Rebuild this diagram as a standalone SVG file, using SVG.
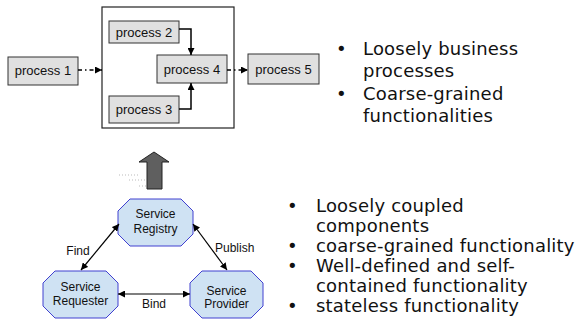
<svg xmlns="http://www.w3.org/2000/svg" width="582" height="327" viewBox="0 0 582 327">
<defs>
<style>
.proc{fill:#e0e0e0;stroke:#333;stroke-width:1}
.pt{font-family:"Liberation Sans",Arial,sans-serif;font-size:13px;fill:#111;text-anchor:middle}
.oct{fill:#cfe2f3;stroke:#4040d0;stroke-width:1}
.st{font-family:"Liberation Sans",Arial,sans-serif;font-size:12px;fill:#111;text-anchor:middle}
.lab{font-family:"Liberation Sans",Arial,sans-serif;font-size:12px;fill:#111}
.bul{font-family:"DejaVu Sans",Verdana,sans-serif;font-size:18px;letter-spacing:0.2px;fill:#111}
.con{fill:none;stroke:#000;stroke-width:1.5}
.thin{fill:none;stroke:#000;stroke-width:1.2}
</style>
<marker id="ah" viewBox="0 0 10 10" refX="10" refY="5" markerWidth="7" markerHeight="7" markerUnits="userSpaceOnUse" orient="auto"><path d="M0,0 L10,5 L0,10 z" fill="#000"/></marker>
<marker id="as" viewBox="0 0 10 10" refX="10" refY="5" markerWidth="7" markerHeight="7" markerUnits="userSpaceOnUse" orient="auto-start-reverse"><path d="M0,0 L10,5 L0,10 z" fill="#000"/></marker>
</defs>
<rect id="container" x="102" y="7" width="132" height="121" fill="#fff" stroke="#222" stroke-width="1.2"/>
<g id="process1"><rect class="proc" x="8" y="57" width="70" height="28"/><text class="pt" x="43" y="75">process 1</text></g>
<g id="process2"><rect class="proc" x="109" y="21" width="70" height="22"/><text class="pt" x="144" y="37">process 2</text></g>
<g id="process4"><rect class="proc" x="157" y="55" width="70" height="28"/><text class="pt" x="192" y="74">process 4</text></g>
<g id="process3"><rect class="proc" x="109" y="96" width="70" height="27"/><text class="pt" x="144" y="114">process 3</text></g>
<g id="process5"><rect class="proc" x="248" y="54" width="71" height="30"/><text class="pt" x="283.5" y="74">process 5</text></g>
<g id="registry"><polygon class="oct" points="130,199 181,199 193,211 193,234 181,246 130,246 118,234 118,211"/><text class="st" x="155.5" y="218">Service</text><text class="st" x="155.5" y="233">Registry</text></g>
<g id="requester"><polygon class="oct" points="55,271 106,271 118,283 118,306 106,318 55,318 43,306 43,283"/><text class="st" x="80.5" y="291">Service</text><text class="st" x="80.5" y="305">Requester</text></g>
<g id="provider"><polygon class="oct" points="202,271 251,271 263,283 263,306 251,318 202,318 190,306 190,283"/><text class="st" x="226.5" y="295">Service</text><text class="st" x="226.5" y="308">Provider</text></g>
<g id="connectors">
<path class="con" d="M179,29 H191 V55" marker-end="url(#ah)"/>
<path class="con" d="M179,109 H191 V83" marker-end="url(#ah)"/>
<path class="con" d="M78,70 H102" stroke-dasharray="4 3 1.5 3" marker-end="url(#ah)"/>
<path class="con" d="M227,70 H248" stroke-dasharray="4 3 1.5 3" marker-end="url(#ah)"/>
<path class="thin" d="M119,224 L81,270" marker-start="url(#as)" marker-end="url(#as)"/>
<path class="thin" d="M193,224 L227,270" marker-start="url(#as)" marker-end="url(#as)"/>
<path class="thin" d="M118,294 L190,294" marker-start="url(#as)" marker-end="url(#as)"/>
</g>
<text class="lab" x="78" y="255" text-anchor="middle">Find</text>
<text class="lab" x="215" y="252">Publish</text>
<text class="lab" x="154" y="308" text-anchor="middle">Bind</text>
<g id="uparrow">
<g stroke="#bbb" stroke-width="1" stroke-dasharray="1 2"><path d="M119,175 H140"/><path d="M129,180 H146"/><path d="M139,186 H147"/></g>
<polygon points="154,152 169,162 162,162 162,189 147,189 147,162 139,162" fill="#5f5f5f" stroke="#222" stroke-width="1"/>
</g>
<g id="bullets-top" class="bul">
<text x="336" y="55">•</text><text x="363" y="55">Loosely business</text>
<text x="363" y="77">processes</text>
<text x="336" y="100">•</text><text x="363" y="100">Coarse-grained</text>
<text x="363" y="122">functionalities</text>
</g>
<g id="bullets-bottom" class="bul">
<text x="287" y="212">•</text><text x="316" y="212">Loosely coupled</text>
<text x="316" y="232">components</text>
<text x="287" y="252">•</text><text x="316" y="252">coarse-grained functionality</text>
<text x="287" y="272">•</text><text x="316" y="272">Well-defined and self-</text>
<text x="316" y="292">contained functionality</text>
<text x="287" y="312">•</text><text x="316" y="312">stateless functionality</text>
</g>
</svg>
